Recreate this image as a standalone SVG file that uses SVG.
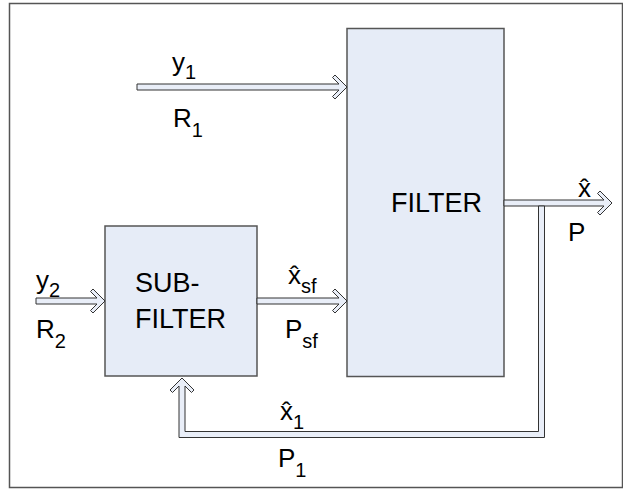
<svg xmlns="http://www.w3.org/2000/svg" width="623" height="492" viewBox="0 0 623 492">
<style>
.frame{fill:#fff;stroke:#555;stroke-width:1.5}
.box{fill:#e6ecf7;stroke:#555;stroke-width:1.5}
.arr{fill:#e9eef8;stroke:#333;stroke-width:1;stroke-linejoin:miter}
.lbl{font-family:"Liberation Sans",Arial,sans-serif;font-size:26px;fill:#000}
.sub{font-size:20px}
.big{font-family:"Liberation Sans",Arial,sans-serif;font-size:27px;fill:#000}
</style>
<rect class="frame" x="9.5" y="3.5" width="613" height="484"/>
<g id="filter">
<rect class="box" x="347" y="28.5" width="157" height="348"/>
<text class="big" x="391" y="212">FILTER</text>
</g>
<g id="subfilter">
<rect class="box" x="105" y="226" width="152" height="150"/>
<text class="big" x="135" y="292">SUB-</text>
<text class="big" x="135" y="328">FILTER</text>
</g>
<g id="connectors">
<path class="arr" d="M137,84 H339 L332.5,77.5 L335,75 L347,87 L335,99 L332.5,96.5 L339,90 H137 Z"/>
<path class="arr" d="M36,298 H97 L90.5,291.5 L93,289 L105,301 L93,313 L90.5,310.5 L97,304 H36 Z"/>
<path class="arr" d="M257,298 H339 L332.5,291.5 L335,289 L347,301 L335,313 L332.5,310.5 L339,304 H257 Z"/>
<path class="arr" d="M504,200 H604 L597.5,193.5 L600,191 L612,203 L600,215 L597.5,212.5 L604,206 H504 Z"/>
<path class="arr" d="M185,386 L191.5,392.5 L194,390 L182,378 L170,390 L172.5,392.5 L179,386 V437.5 H544.5 V206 H538.5 V431.5 H185 Z"/>
</g>
<g id="labels">
<text class="lbl" x="172" y="71">y<tspan class="sub" dy="8">1</tspan></text>
<text class="lbl" x="173" y="127">R<tspan class="sub" dy="10">1</tspan></text>
<text class="lbl" x="578" y="197">x̂</text>
<text class="lbl" x="568" y="241">P</text>
<text class="lbl" x="36" y="289">y<tspan class="sub" dy="8">2</tspan></text>
<text class="lbl" x="36" y="338">R<tspan class="sub" dy="10">2</tspan></text>
<text class="lbl" x="288" y="284">x̂<tspan class="sub" dy="9">sf</tspan></text>
<text class="lbl" x="285" y="338">P<tspan class="sub" dy="10">sf</tspan></text>
<text class="lbl" x="280" y="420">x̂<tspan class="sub" dy="9">1</tspan></text>
<text class="lbl" x="278" y="467">P<tspan class="sub" dy="10">1</tspan></text>
</g>
</svg>
